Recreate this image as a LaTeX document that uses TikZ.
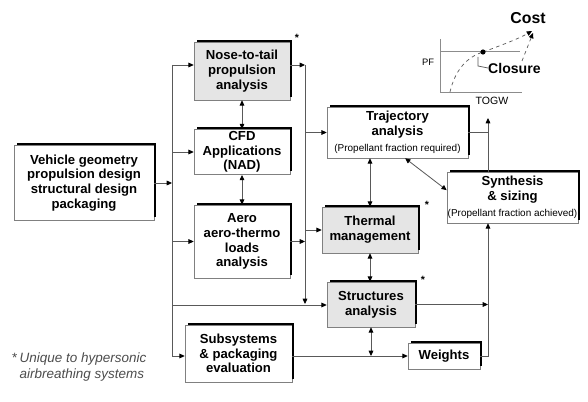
\documentclass[tikz,border=0pt]{standalone}
\usepackage{fontspec}
\setmainfont{Liberation Sans}
\usepackage{xcolor}
\usetikzlibrary{arrows.meta,positioning,calc}
\definecolor{wiregray}{gray}{0.35}
\definecolor{boxline}{gray}{0.5}
\definecolor{shade}{gray}{0.9}
\newcommand{\pnote}[1]{{\fontsize{8.5}{10}\selectfont\mdseries #1}}

\begin{document}
\begin{tikzpicture}[x=0.03cm, y=-0.03cm,
  blk/.style={draw=boxline, line width=0.5pt, fill=white, inner sep=0pt, align=center,
    font=\fontsize{11.2}{12.6}\selectfont\bfseries},
  hot/.style={blk, fill=shade},
  rim/.style={line width=1.8pt, black},
  wire/.style={draw=wiregray, line width=0.7pt},
  arr/.style={wire, -{Triangle[length=4.5pt,width=4pt,color=black]}},
  dbl/.style={wire, {Triangle[length=4.5pt,width=4pt,color=black]}-{Triangle[length=4.5pt,width=4pt,color=black]}},
  astx/.style={font=\bfseries\small, inner sep=0pt},
  axis/.style={draw=black!45, line width=0.6pt},
  lbl/.style={inner sep=0pt, font=\fontsize{9}{10}\selectfont}
]
  \useasboundingbox (0,0) rectangle (588,402);

  \node[blk, minimum width=4.2cm, minimum height=2.25cm] (veh) at (84,183)
    {Vehicle geometry\\propulsion design\\structural design\\packaging};
  \node[hot, minimum width=2.88cm, minimum height=1.74cm] (nose) at (242,71)
    {Nose-to-tail\\propulsion\\analysis};
  \node[blk, minimum width=2.88cm, minimum height=1.36cm] (cfd) at (242,152)
    {CFD\\Applications\\(NAD)};
  \node[blk, minimum width=2.88cm, minimum height=2.19cm] (aero) at (242,241.5)
    {Aero\\aero-thermo\\loads\\analysis};
  \node[blk, minimum width=3.21cm, minimum height=1.71cm] (subsys) at (238.5,353.5)
    {Subsystems\\\& packaging\\evaluation};
  \node[blk, minimum width=4.23cm, minimum height=1.53cm] (traj) at (397.5,132.5)
    {Trajectory\\analysis\\[1pt]\pnote{(Propellant fraction required)}};
  \node[hot, minimum width=2.88cm, minimum height=1.38cm] (therm) at (370,230)
    {Thermal\\management};
  \node[hot, minimum width=2.64cm, minimum height=1.35cm] (struc) at (371,304.5)
    {Structures\\analysis};
  \node[blk, minimum width=3.93cm, minimum height=1.53cm] (synth) at (512.5,197.5)
    {Synthesis\\\& sizing\\[1pt]\pnote{(Propellant fraction achieved)}};
  \node[blk, minimum width=2.16cm, minimum height=0.78cm] (wts) at (444,356)
    {Weights};

  \foreach \n in {veh,nose,cfd,aero,subsys,traj,therm,struc,synth,wts}
    \draw[rim] ([xshift=3pt,yshift=0.9pt]\n.north west) -| ([xshift=0.9pt,yshift=3pt]\n.south east);

  \node[astx] (s1) at (297,38) {*};
  \node[astx] (s2) at (427,205) {*};
  \node[astx] (s3) at (423,280) {*};

  \coordinate (bl1) at (172,65);
  \coordinate (bl2) at (172,356);
  \coordinate (bl3) at (172,305);
  \coordinate (br1) at (305,65);
  \coordinate (br2) at (305,304);
  \coordinate (vr) at (488,118);

  \draw[arr] (veh.east) -- (veh.east -| bl1);
  \draw[wire] (bl1) -- (bl2);
  \draw[arr] (bl1) -- (bl1 -| nose.west);
  \draw[arr] (cfd.west -| bl1) -- (cfd.west);
  \draw[arr] (aero.west -| bl1) -- (aero.west);
  \draw[arr] (bl3) -- (bl3 -| struc.west);
  \draw[arr] (bl2) -- (bl2 -| subsys.west);

  \draw[arr] (br1 -| nose.east) -- (br1);
  \draw[arr] (br1) -- (br2);
  \draw[arr] (aero.east) -- (aero.east -| br1);
  \draw[arr] (traj.west -| br1) -- (traj.west);
  \draw[arr] (therm.west -| br1) -- (therm.west);

  \draw[dbl] (nose.south) -- (cfd.north);
  \draw[dbl] (cfd.south) -- (aero.north);
  \draw[dbl] (therm.north |- traj.south) -- (therm.north);
  \draw[dbl] (therm.south) -- (therm.south |- struc.north);
  \draw[dbl] ([xshift=0.23cm]traj.south) -- ([yshift=0.22cm]synth.west);
  \draw[dbl] (struc.south) -- (struc.south |- wts.west);

  \draw[arr] (subsys.east |- wts.west) -- (wts.west);
  \draw[arr] (struc.east) -- (struc.east -| vr);
  \draw[arr] (wts.east) -| (vr |- synth.south);
  \draw[arr] (vr |- synth.north) -- (vr);
  \draw[wire] (traj.east) -- (traj.east -| vr);

  \draw[axis] (440,39) -- (440,92) -- (522,92);
  \draw[axis] (440,51) -- (520,51);
  \node[lbl, font=\fontsize{8}{9}\selectfont] (pf) at (428,62) {PF};
  \node[lbl] (togw) at (492,101) {TOGW};
  \draw[wiregray, dashed, line width=0.6pt] (450,92) .. controls (455,70) and (467,57) .. (483,52);
  \draw[wiregray, dashed, line width=0.6pt, -{Triangle[length=4.5pt,width=4pt,color=black]}]
    (483,52) .. controls (505,44) and (520,38) .. (532,31);
  \fill (483,52) circle (2.2pt);
  \node[inner sep=0pt, font=\fontsize{13.5}{15}\selectfont\bfseries] (cost) at (528,18) {Cost};
  \node[inner sep=0pt, font=\fontsize{12}{14}\selectfont\bfseries, anchor=west] (clos) at (488,68) {Closure};
  \draw[wiregray, dashed, line width=0.6pt, -{Triangle[length=4.5pt,width=4pt,color=black]}]
    (522,61) -- (533,33);
  \draw[wiregray, line width=0.6pt] (clos.west) -- (478,66) -- (478,57);

  \node[inner sep=0pt, anchor=north west, align=left, text=black!70,
    font=\fontsize{11.5}{13.5}\selectfont] (foot) at (12,353)
    {*\,\textit{Unique to hypersonic}\\\phantom{*\,}\textit{airbreathing systems}};
\end{tikzpicture}
\end{document}
